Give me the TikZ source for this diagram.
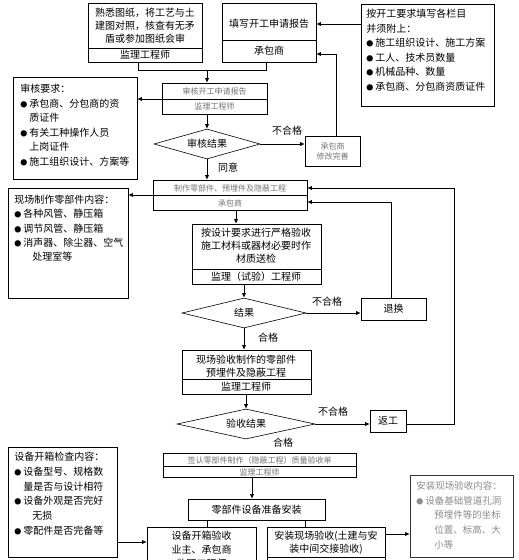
\documentclass[tikz,border=0pt]{standalone}
\usepackage{fontspec}
\setmainfont{Noto Sans CJK SC}
\usetikzlibrary{arrows.meta,shapes.geometric}
\newcommand\bl{{\fontsize{7}{7}\selectfont ●}\hspace{2pt}}
\newcommand\ind[1]{\hspace*{#1pt}}
\newcommand\bx[5]{\node[box,minimum width={#4-#2},minimum height={#5-#3}] (#1) at ({(#2+#4)/2},{(#3+#5)/2}) {};}
\begin{document}
\begin{tikzpicture}[x=1pt,y=-1pt,line width=0.6pt,
  box/.style={draw,inner sep=0pt,fill=white},
  arr/.style={-{Latex[length=4.5pt,width=4pt]}},
  txt/.style={inner sep=0pt,font=\fontsize{10}{13}\selectfont,align=center},
  small/.style={inner sep=0pt,font=\fontsize{8}{10}\selectfont,text=black!55,align=center},
  lst/.style={inner sep=0pt,anchor=north west,align=left,font=\fontsize{10}{14.5}\selectfont},
  dia/.style={draw,diamond,inner sep=0pt,aspect=3,fill=white},
  lbl/.style={inner sep=0pt,font=\fontsize{10}{12}\selectfont}]
\clip (0,0) rectangle (519,560);
\fill[white] (0,0) rectangle (519,560);
% ---------- boxes ----------
\bx{A}{88}{3}{202}{62}
\bx{B}{222}{3}{316}{62}
\bx{C}{361}{4}{494}{106}
\bx{D}{162}{83}{267}{114}
\bx{E}{13}{77}{137}{179}
\node[dia,minimum width=106,minimum height=30] (F) at (207,144) {};
\bx{G}{305}{136}{360}{166}
\bx{H}{153}{180}{307}{210}
\bx{I}{8}{188}{128}{298}
\bx{J}{192}{224}{321}{284}
\node[dia,minimum width=124,minimum height=30] (K) at (244,313) {};
\bx{L}{361}{298}{426}{320}
\bx{M}{182}{350}{311}{394}
\node[dia,minimum width=138,minimum height=30] (N) at (246,424) {};
\bx{O}{370}{410}{406}{432}
\bx{P}{163}{453}{356}{477}
\bx{Q}{188}{499}{325}{520}
\bx{R}{147}{527}{256}{590}
\bx{S}{267}{527}{385}{590}
\node[box,draw=black!80,minimum width=103,minimum height=82] (T) at (461.5,516) {};
\bx{U}{8}{447}{117}{557}
% ---------- dividers ----------
\coordinate (dA) at (0,48);   \draw (A.west |- dA) -- (A.east |- dA);
\coordinate (dB) at (0,40);   \draw (B.west |- dB) -- (B.east |- dB);
\coordinate (dD) at (0,99);   \draw (D.west |- dD) -- (D.east |- dD);
\coordinate (dH) at (0,195);  \draw (H.west |- dH) -- (H.east |- dH);
\coordinate (dJ) at (0,269);  \draw (J.west |- dJ) -- (J.east |- dJ);
\coordinate (dM) at (0,379);  \draw (M.west |- dM) -- (M.east |- dM);
\coordinate (dP) at (0,466);  \draw (P.west |- dP) -- (P.east |- dP);
\coordinate (dS) at (0,557);  \draw (S.west |- dS) -- (S.east |- dS);
% ---------- texts ----------
\node[txt] (At) at (145,26) {熟悉图纸，将工艺与土\\建图对照，核查有无矛\\盾或参加图纸会审};
\node[txt] (Ar) at (145,55) {监理工程师};
\node[txt] (Bt) at (269,24) {填写开工申请报告};
\node[txt] (Br) at (269,51) {承包商};
\node[lst] (Ct) at (366,9) {按开工要求填写各栏目\\并须附上：\\\bl 施工组织设计、施工方案\\\bl 工人、技术员数量\\\bl 机械品种、数量\\\bl 承包商、分包商资质证件};
\node[small] (Dt) at (214.5,91) {审核开工申请报告};
\node[small] (Dr) at (214.5,106) {监理工程师};
\node[lst] (Et) at (20,84) {审核要求：\\\bl 承包商、分包商的资\\\ind{9}质证件\\\bl 有关工种操作人员\\\ind{9}上岗证件\\\bl 施工组织设计、方案等};
\node[lbl] (Ft) at (F) {审核结果};
\node[small] (Gt) at (G) {承包商\\修改完善};
\node[lbl] (l1) at (287,131) {不合格};
\node[lbl] (l2) at (228,168) {同意};
\node[small] (Ht) at (230,188) {制作零部件、预埋件及隐蔽工程};
\node[small] (Hr) at (230,203) {承包商};
\node[lst,font=\fontsize{10}{14.2}\selectfont] (It) at (14,195) {现场制作零部件内容：\\\bl 各种风管、静压箱\\\bl 调节风管、静压箱\\\bl 消声器、除尘器、空气\\\ind{18}处理室等};
\node[txt] (Jt) at (256,246) {按设计要求进行严格验收\\施工材料或器材必要时作\\材质送检};
\node[txt] (Jr) at (256,277) {监理（试验）工程师};
\node[lbl] (Kt) at (K) {结果};
\node[lbl] (l3) at (327,302) {不合格};
\node[lbl] (l4) at (268,338) {合格};
\node[lbl] (Lt) at (L) {退换};
\node[txt] (Mt) at (246,366.5) {现场验收制作的零部件\\预埋件及隐蔽工程};
\node[txt] (Mr) at (246,386.5) {监理工程师};
\node[lbl] (Nt) at (N) {验收结果};
\node[lbl] (l5) at (333,412) {不合格};
\node[lbl] (l6) at (283,443) {合格};
\node[lbl] (Ot) at (O) {返工};
\node[small] (Pt) at (259.5,460) {签认零部件制作（隐蔽工程）质量验收单};
\node[small] (Pr) at (259.5,472) {监理工程师};
\node[txt] (Qt) at (Q) {零部件设备准备安装};
\node[txt,anchor=north,font=\fontsize{10}{14}\selectfont] (Rt) at (201.5,531) {设备开箱验收\\业主、承包商\\监理工程师};
\node[txt,anchor=north,font=\fontsize{10}{13}\selectfont] (St) at (326,531) {安装现场验收(土建与安\\装中间交接验收)};
\node[lst,text=black!45,font=\fontsize{9.5}{14.8}\selectfont] (Tt) at (416,481) {安装现场验收内容：\\\bl 设备基础管道孔洞\\\ind{18}预埋件等的坐标\\\ind{18}位置、标高、大\\\ind{18}小等};
\node[lst,font=\fontsize{10}{14.7}\selectfont] (Ut) at (14,452) {设备开箱检查内容：\\\bl 设备型号、规格数\\\ind{9}量是否与设计相符\\\bl 设备外观是否完好\\\ind{18}无损\\\bl 零配件是否完备等};
% ---------- connectors ----------
\coordinate (jA) at (138,70);
\coordinate (jB) at (266,70);
\coordinate (jD) at (207,70);
\draw (A.south -| jA) -- (jA) -- (jB) -- (B.south -| jB);
\draw[arr] (jD) -- (jD |- D.north);
\draw[arr] (C.west |- Bt) -- (B.east |- Bt);
\draw[arr] (D.west |- dD) -- (E.east |- dD);
\draw[arr] (F.north |- D.south) -- (F.north);
\draw[arr] (F.east) -- (G.west |- F.east);
\coordinate (gB) at (336,54);
\draw[arr] (G.north -| gB) -- (gB) -- (B.east |- gB);
\draw[arr] (F.south) -- (F.south |- H.north);
\draw[arr] (H.west |- dH) -- (I.east |- dH);
\coordinate (hJ) at (236,210);
\draw[arr] (hJ) -- (hJ |- J.north);
\draw[arr] (K.north |- J.south) -- (K.north);
\draw[arr] (K.east) -- (L.west |- K.east);
\coordinate (lH) at (391,202);
\draw[arr] (L.north -| lH) -- (lH) -- (H.east |- lH);
\draw[arr] (K.south) -- (K.south |- M.north);
\draw[arr] (N.north |- M.south) -- (N.north);
\draw[arr] (N.east) -- (O.west |- N.east);
\coordinate (oR) at (454,424);
\coordinate (oT) at (454,188);
\draw[arr] (O.east |- oR) -- (oR) -- (oT) -- (H.east |- oT);
\coordinate (pQ) at (252,477);
\draw[arr] (pQ) -- (pQ |- Q.north);
\coordinate (qR) at (207,520);
\coordinate (qS) at (305,520);
\draw (qR) -- (qR |- R.north);
\draw (qS) -- (qS |- S.north);
\coordinate (sT) at (0,534);
\draw[arr] (S.east |- sT) -- (T.west |- sT);
\coordinate (uR) at (0,542);
\draw[arr] (U.east |- uR) -- (R.west |- uR);
\end{tikzpicture}
\end{document}
